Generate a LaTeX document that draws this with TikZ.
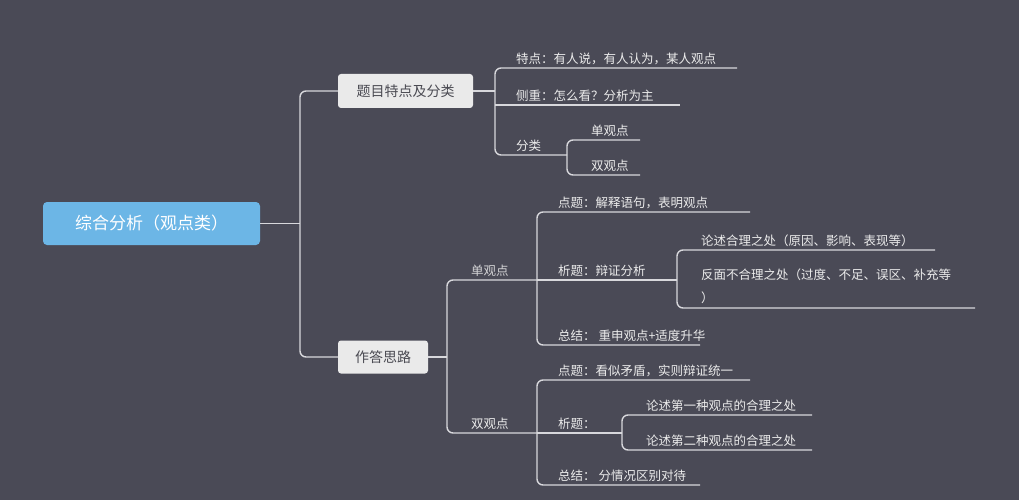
\documentclass[tikz,border=0pt]{standalone}
\usepackage{fontspec}
\setmainfont{Noto Sans CJK SC}
\begin{document}
\begin{tikzpicture}[x=1pt,y=-1pt,
  ln/.style={draw=lc,line width=1.4pt,rounded corners=6pt},
  tx/.style={anchor=south west,text=tc,font=\fontsize{12.5}{23}\selectfont,inner sep=1pt},
  box/.style={fill=bx,rounded corners=3pt,text=dk,font=\fontsize{14}{16}\selectfont,inner sep=0pt}]
\definecolor{bg}{HTML}{4A4A56}\definecolor{lc}{HTML}{D8D8DC}\definecolor{tc}{HTML}{ECECEC}
\definecolor{bx}{HTML}{EAEAEA}\definecolor{dk}{HTML}{4A4A52}\definecolor{bl}{HTML}{6CB6E6}
\fill[bg] (0,0) rectangle (1019,500);
\useasboundingbox (0,0) rectangle (1019,500);
% boxes
\node[fill=bl,rounded corners=4pt,minimum width=217pt,minimum height=43pt,text=white,font=\fontsize{17}{19}\selectfont] (root) at (151.5,223.5) {综合分析（观点类）};
\node[box,minimum width=135pt,minimum height=34pt] (t1) at (405.5,91) {题目特点及分类};
\node[box,minimum width=90pt,minimum height=33pt] (t2) at (383,357) {作答思路};
% level 1
\draw[ln] (root.east) -- (300,223.5);
\draw[ln] (t1.west) -- (300,91) -- (300,357) -- (t2.west);
% t1 branch
\draw[ln] (t1.east) -- (495,91);
\draw[ln] (737,68) -- (495,68) -- (495,155) -- (567,155);
\draw[ln] (495,105) -- (680,105);
\draw[ln] (640,140) -- (567,140) -- (567,175) -- (640,175);
\node[tx] (a1) at (515,66) {特点：有人说，有人认为，某人观点};
\node[tx] (a2) at (515,103) {侧重：怎么看？分析为主};
\node[tx] (a3) at (515,153) {分类};
\node[tx] (a4) at (590,138) {单观点};
\node[tx] (a5) at (590,173) {双观点};
% t2 branch
\draw[ln] (t2.east) -- (447,357);
\draw[ln] (537,280) -- (447,280) -- (447,433) -- (537,433);
\node[tx,opacity=.85] (b0) at (470,278) {单观点};
\node[tx] (b00) at (470,431) {双观点};
% single
\draw[ln] (750,212) -- (537,212) -- (537,345) -- (700,345);
\draw[ln] (537,280) -- (677,280);
\draw[ln] (935,250) -- (677,250) -- (677,308) -- (975,308);
\node[tx] (c1) at (557,210) {点题：解释语句，表明观点};
\node[tx] (c2) at (557,278) {析题：辩证分析};
\node[tx] (c3) at (557,343) {总结：\ 重申观点+适度升华};
\node[tx] (c4) at (700,248) {论述合理之处（原因、影响、表现等）};
\node[tx,align=left] (c5) at (700,305) {反面不合理之处（过度、不足、误区、补充等\\）};
% double
\draw[ln] (750,380) -- (537,380) -- (537,485) -- (700,485);
\draw[ln] (537,433) -- (622,433);
\draw[ln] (812,415) -- (622,415) -- (622,450) -- (812,450);
\node[tx] (d1) at (557,378) {点题：看似矛盾，实则辩证统一};
\node[tx] (d2) at (557,431) {析题：};
\node[tx] (d3) at (557,483) {总结：\ 分情况区别对待};
\node[tx] (d4) at (645,413) {论述第一种观点的合理之处};
\node[tx] (d5) at (645,448) {论述第二种观点的合理之处};
\end{tikzpicture}
\end{document}
